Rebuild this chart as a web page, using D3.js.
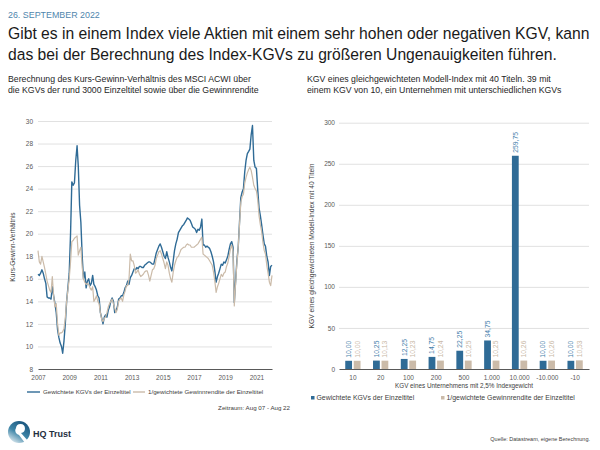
<!DOCTYPE html>
<html><head><meta charset="utf-8">
<script src="https://cdn.jsdelivr.net/npm/d3@7"></script>
<style>body{margin:0;background:#fff}svg{display:block}text{font-family:"Liberation Sans",Arial,Helvetica,sans-serif}</style>
</head><body><svg id="c" width="600" height="450"></svg>
<script>
// ---------- DATA ----------
const startMonth = "2007-08"; // monthly series Aug 2007 – Aug 2022
const weightedPE = [
16.4,16.3,16.5,16.8,16.5,16.0,15.6,14.4,14.3,14.3,14.2,15.3,
14.5,13.8,13.0,11.5,10.8,10.3,10.0,9.4,10.5,12.0,14.0,15.2,
16.5,20.0,24.6,24.3,24.5,26.5,27.8,26.0,22.5,21.0,18.0,16.0,
16.6,15.2,15.8,16.0,15.4,15.6,16.3,15.5,15.3,15.0,14.5,14.3,
13.0,12.5,12.0,12.6,12.8,12.6,13.2,13.5,14.0,14.3,14.0,13.0,
13.2,13.5,14.2,14.3,14.5,14.5,14.8,15.2,15.4,15.8,15.5,16.1,
16.3,16.6,16.9,16.8,17.0,16.9,17.1,17.1,17.0,17.0,17.2,17.3,
17.4,17.5,17.5,17.4,17.3,17.3,17.8,18.3,18.6,18.9,19.1,18.8,
18.4,18.0,17.8,18.4,17.9,17.5,17.0,16.7,17.6,18.5,19.1,19.5,
20.1,20.3,20.5,20.7,20.8,21.0,21.2,21.4,21.3,21.2,20.9,20.6,
20.5,20.4,20.1,20.4,20.3,20.6,21.3,19.0,19.0,18.8,18.9,18.8,
18.7,18.4,18.0,17.5,16.7,15.7,16.2,16.5,16.9,17.3,17.2,17.5,
17.4,17.7,18.0,18.6,19.1,19.3,18.8,13.9,15.8,17.6,18.8,21.0,
23.2,23.7,24.0,25.5,26.5,27.1,27.3,27.5,28.8,29.6,26.5,25.9,
25.8,23.9,22.3,21.6,20.8,19.9,19.1,18.9,18.0,17.5,16.3,17.1,
17.2];
const inverseYieldPE = [
18.5,17.5,17.3,18.0,17.5,17.0,16.4,15.8,15.4,15.0,14.8,16.2,
14.5,13.5,13.8,12.0,11.0,11.2,11.2,11.3,11.6,12.5,14.0,15.0,
16.0,17.5,19.3,19.4,19.6,19.7,19.8,18.1,18.5,18.8,17.0,16.0,
15.7,15.5,15.6,15.5,15.2,15.0,15.3,14.0,14.2,14.5,14.0,13.8,
13.0,12.4,12.2,12.5,12.6,13.0,13.5,13.8,14.0,14.2,13.8,13.4,
13.0,13.3,14.0,14.2,14.3,14.0,14.6,14.9,15.4,15.4,16.0,18.2,
17.6,17.6,17.2,16.5,16.6,16.8,16.4,16.2,16.3,16.4,16.6,16.7,
16.7,16.3,15.8,16.3,16.8,16.9,17.2,17.8,18.1,18.4,18.5,18.2,
17.8,17.4,16.9,17.5,17.2,16.5,16.0,15.7,16.6,17.2,17.6,17.9,
18.0,18.3,18.6,18.7,18.8,18.8,19.0,19.1,19.0,19.0,18.8,18.8,
18.8,18.9,19.0,19.1,19.3,19.5,19.7,18.2,18.1,18.0,17.9,17.8,
17.6,17.4,17.2,16.6,15.8,14.8,15.3,15.6,16.0,16.4,16.2,16.5,
16.6,17.1,17.4,18.0,18.6,19.0,18.4,13.6,15.6,17.4,18.8,20.8,
22.8,23.3,23.5,24.5,25.0,25.4,25.7,25.9,25.6,25.0,24.3,24.0,
23.8,23.0,21.6,20.8,20.2,19.2,18.5,18.2,17.2,16.5,15.7,15.4,
16.3];
const yearTicks = ["2007-08","2009-08","2011-08","2013-08","2015-08","2017-08","2019-08","2021-08"];
const leftYTicks = [10,12,14,16,18,20,22,24,26,28,30];

const barCategories = ["10","20","100","200","500","1.000","10.000","-10.000","-10"];
const barWeighted = [10.00,10.25,12.25,14.75,22.25,34.75,259.75,10.00,10.00];
const barInverse  = [10.00,10.13,10.23,10.24,10.25,10.25,10.26,10.26,10.53];
const rightYTicks = [0,50,100,150,200,250,300];

const seriesNames = ["Gewichtete KGVs der Einzeltitel","1/gewichtete Gewinnrendite der Einzeltitel"];

// ---------- STYLE ----------
const BLUE = "#2f6b96", BEIGE = "#cbbba9", GRID = "#d9d9d9", AXIS = "#595959", TXT = "#404040";
const svg = d3.select("#c");
const parseM = d3.timeParse("%Y-%m");
function fit(sel, w){ const len = sel.node().getComputedTextLength(); sel.attr("font-size", parseFloat(sel.attr("font-size"))*w/len); return parseFloat(sel.attr("font-size")); }

// ---------- HEADER ----------
const dt = svg.append("text").attr("x",8).attr("y",17.5).attr("font-size",7).attr("fill","#4f86ad").text("26. SEPTEMBER 2022");
fit(dt, 92);
const t1 = svg.append("text").attr("x",8).attr("y",39).attr("font-size",16).attr("fill","#1a1a1a")
  .text("Gibt es in einem Index viele Aktien mit einem sehr hohen oder negativen KGV, kann");
const tfs = fit(t1, 582);
svg.append("text").attr("x",8).attr("y",60).attr("font-size",tfs).attr("fill","#1a1a1a")
  .text("das bei der Berechnung des Index-KGVs zu größeren Ungenauigkeiten führen.");

const r1 = svg.append("text").attr("x",307).attr("y",82).attr("font-size",8).attr("fill","#262626")
  .text("KGV eines gleichgewichteten Modell-Index mit 40 Titeln. 39 mit");
const sfs = fit(r1, 244);
svg.append("text").attr("x",307).attr("y",92.5).attr("font-size",sfs).attr("fill","#262626")
  .text("einem KGV von 10, ein Unternehmen mit unterschiedlichen KGVs");
svg.append("text").attr("x",8).attr("y",82).attr("font-size",sfs).attr("fill","#262626")
  .text("Berechnung des Kurs-Gewinn-Verhältnis des MSCI ACWI über");
svg.append("text").attr("x",8).attr("y",92.5).attr("font-size",sfs).attr("fill","#262626")
  .text("die KGVs der rund 3000 Einzeltitel sowie über die Gewinnrendite");

// ---------- LEFT LINE CHART ----------
const dates = d3.range(weightedPE.length).map(i => d3.timeMonth.offset(parseM(startMonth), i));
const xL = d3.scaleTime().domain([parseM(startMonth), dates[dates.length-1]]).range([38, 272]);
const yL = d3.scaleLinear().domain([8, 30]).range([369, 121]);

const gy = svg.append("g").attr("transform","translate(38,0)")
  .call(d3.axisLeft(yL).tickValues([8].concat(leftYTicks)).tickSize(-(272-38)).tickPadding(5));
gy.select(".domain").remove();
gy.selectAll(".tick line").attr("stroke", d => d===8 ? "none" : GRID).attr("stroke-width",0.8);
gy.selectAll(".tick text").attr("font-size",6.5).attr("fill",AXIS).attr("font-family","Liberation Sans, Arial, sans-serif");

const gx = svg.append("g").attr("transform","translate(0,369)")
  .call(d3.axisBottom(xL).tickValues(yearTicks.map(parseM)).tickFormat(d3.timeFormat("%Y")).tickSize(0).tickPadding(6));
gx.select(".domain").attr("stroke",AXIS).attr("stroke-width",1.2);
gx.selectAll(".tick text").attr("font-size",6.5).attr("fill",AXIS).attr("font-family","Liberation Sans, Arial, sans-serif");

const line = d3.line().x((d,i)=>xL(dates[i])).y(d=>yL(d));
svg.append("path").datum(weightedPE).attr("d",line).attr("fill","none").attr("stroke",BLUE).attr("stroke-width",1.4).attr("stroke-linejoin","round");
svg.append("path").datum(inverseYieldPE).attr("d",line).attr("fill","none").attr("stroke",BEIGE).attr("stroke-width",1.2).attr("stroke-linejoin","round");

svg.append("text").attr("transform","translate(15,247) rotate(-90)").attr("text-anchor","middle")
  .attr("font-size",6.6).attr("fill",TXT).text("Kurs-Gewinn-Verhältnis");

// left legend
const ll = svg.append("g");
ll.append("line").attr("x1",27).attr("x2",40).attr("y1",392).attr("y2",392).attr("stroke",BLUE).attr("stroke-width",1.4);
ll.append("text").attr("x",43).attr("y",394.2).attr("font-size",6.2).attr("fill",TXT).text(seriesNames[0]);
ll.append("line").attr("x1",133).attr("x2",145).attr("y1",392).attr("y2",392).attr("stroke",BEIGE).attr("stroke-width",1.4);
ll.append("text").attr("x",148).attr("y",394.2).attr("font-size",6.2).attr("fill",TXT).text(seriesNames[1]);
svg.append("text").attr("x",290).attr("y",410).attr("text-anchor","end").attr("font-size",6.2).attr("fill",TXT).text("Zeitraum: Aug 07 - Aug 22");

// ---------- RIGHT BAR CHART ----------
const xR = d3.scaleBand().domain(barCategories).range([339, 589]).paddingInner(0.45).paddingOuter(0.225);
const xS = d3.scaleBand().domain([0,1]).range([0, xR.bandwidth()]).paddingInner(0.2);
const yR = d3.scaleLinear().domain([0, 300]).range([369, 122.7]);

const gyR = svg.append("g").attr("transform","translate(339,0)")
  .call(d3.axisLeft(yR).tickValues(rightYTicks).tickSize(-250).tickPadding(4));
gyR.select(".domain").remove();
gyR.selectAll(".tick line").attr("stroke", d => d===0 ? "none" : GRID).attr("stroke-width",0.8);
gyR.selectAll(".tick text").attr("font-size",6.5).attr("fill",AXIS).attr("font-family","Liberation Sans, Arial, sans-serif");

const gxR = svg.append("g").attr("transform","translate(0,369)")
  .call(d3.axisBottom(xR).tickSize(0).tickPadding(6));
gxR.select(".domain").attr("stroke",AXIS).attr("stroke-width",1.2);
gxR.selectAll(".tick text").attr("font-size",6.5).attr("fill",AXIS).attr("font-family","Liberation Sans, Arial, sans-serif");

const fmt = v => d3.format(".2f")(v).replace(".", ",");
const barData = barCategories.map((c,i)=>({c, vals:[barWeighted[i], barInverse[i]]}));
const cols = [BLUE, BEIGE], lblCols = ["#4580ab", "#c9b9a7"];
const grp = svg.append("g").selectAll("g").data(barData).join("g").attr("transform", d=>`translate(${xR(d.c)},0)`);
grp.selectAll("rect").data(d=>d.vals).join("rect")
  .attr("x",(v,j)=>xS(j)).attr("width",xS.bandwidth())
  .attr("y",v=>yR(v)).attr("height",v=>yR(0)-yR(v)).attr("fill",(v,j)=>cols[j]);
grp.selectAll("text").data(d=>d.vals).join("text")
  .attr("transform",(v,j)=>`translate(${xS(j)+xS.bandwidth()/2},${yR(v)-3}) rotate(-90)`)
  .attr("dy","0.35em").attr("font-size",6.8).attr("fill",(v,j)=>lblCols[j]).text(fmt);

svg.append("text").attr("transform","translate(314,246) rotate(-90)").attr("text-anchor","middle")
  .attr("font-size",6.7).attr("fill",TXT).text("KGV eines gleichgewichteten Modell-Index mit 40 Titeln");
svg.append("text").attr("x",464).attr("y",388).attr("text-anchor","middle").attr("font-size",6.3).attr("fill",TXT)
  .text("KGV eines Unternehmens mit 2,5% Indexgewicht");

const rl = svg.append("g");
rl.append("rect").attr("x",311).attr("y",396).attr("width",3.5).attr("height",3.5).attr("fill",BLUE);
rl.append("text").attr("x",316.5).attr("y",400).attr("font-size",6.9).attr("fill",TXT).text(seriesNames[0]);
rl.append("rect").attr("x",441).attr("y",396).attr("width",3.5).attr("height",3.5).attr("fill",BEIGE);
rl.append("text").attr("x",446.5).attr("y",400).attr("font-size",6.9).attr("fill",TXT).text(seriesNames[1]);

// ---------- FOOTER ----------
const defs = svg.append("defs");
const lg = defs.append("linearGradient").attr("id","lg").attr("x1","0.8").attr("y1","0").attr("x2","0.2").attr("y2","1");
lg.append("stop").attr("offset","0").attr("stop-color","#164f78");
lg.append("stop").attr("offset","0.55").attr("stop-color","#3f86a8");
lg.append("stop").attr("offset","1").attr("stop-color","#e3edf2");
svg.append("circle").attr("cx",19).attr("cy",432).attr("r",11).attr("fill","url(#lg)");
svg.append("path").attr("d","M16,428 a4.5,4.5 0 1 1 5,5 L28,441 L25,443 L19,435 a4.5,4.5 0 0 1 -3,-7 Z").attr("fill","#fff");
svg.append("text").attr("x",33).attr("y",437).attr("font-size",9).attr("font-weight","bold").attr("fill","#1f2f3f").text("HQ Trust");
svg.append("text").attr("x",590).attr("y",441).attr("text-anchor","end").attr("font-size",5.5).attr("fill",TXT).text("Quelle: Datastream, eigene Berechnung.");
</script></body></html>
